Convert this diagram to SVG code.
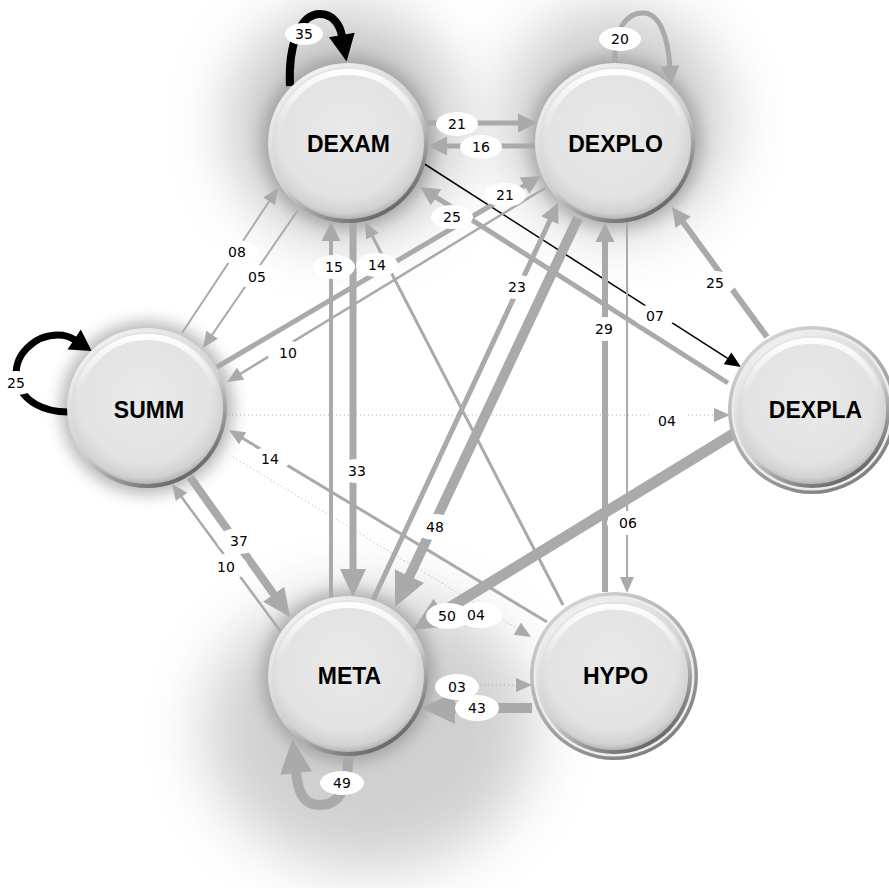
<svg xmlns="http://www.w3.org/2000/svg" xmlns:xlink="http://www.w3.org/1999/xlink" width="889" height="888" viewBox="0 0 889 888">
<style>
.n text{font-family:"Liberation Sans",Arial,sans-serif;font-weight:bold;font-size:23px;text-anchor:middle;fill:#000}
.e{fill:none;stroke:#aaaaaa}
.b{fill:none;stroke:#000}
.d{fill:none;stroke:#aaaaaa;stroke-width:1;stroke-dasharray:1 3}
.lb ellipse{fill:#fff}
.lb text{font-family:"DejaVu Sans",Verdana,sans-serif;font-size:14px;text-anchor:middle;fill:#000}
</style>
<defs>
<filter id="blurL" x="-60%" y="-60%" width="220%" height="220%"><feGaussianBlur stdDeviation="30"/></filter>
<filter id="blurS" x="-30%" y="-30%" width="160%" height="160%"><feGaussianBlur stdDeviation="8"/></filter>
<linearGradient id="rim" x1="0.2" y1="0" x2="0.8" y2="1">
<stop offset="0" stop-color="#f4f4f4"/><stop offset="0.55" stop-color="#cfcfcf"/><stop offset="1" stop-color="#555"/>
</linearGradient>
<radialGradient id="body" cx="0.48" cy="0.42" r="0.58">
<stop offset="0" stop-color="#e9e9e9"/><stop offset="0.75" stop-color="#e3e3e3"/><stop offset="0.93" stop-color="#d2d2d2"/><stop offset="1" stop-color="#b5b5b5"/>
</radialGradient>
<linearGradient id="hl" x1="0" y1="0" x2="0" y2="1">
<stop offset="0" stop-color="#fff" stop-opacity="0.95"/><stop offset="0.4" stop-color="#fff" stop-opacity="0"/>
</linearGradient>
<linearGradient id="ring" x1="0.2" y1="0" x2="0.8" y2="1">
<stop offset="0" stop-color="#d8d8d8"/><stop offset="1" stop-color="#7a7a7a"/>
</linearGradient>
<g id="ball">
<circle r="80" fill="url(#rim)"/>
<circle r="76" fill="url(#body)"/>
<circle r="71" fill="none" stroke="url(#hl)" stroke-width="6"/>
</g>
<marker id="as" markerUnits="userSpaceOnUse" orient="auto" refX="0" refY="0" overflow="visible"><path d="M-1,-7 L15,0 L-1,7 z" fill="#aaaaaa"/></marker>
<marker id="am" markerUnits="userSpaceOnUse" orient="auto" refX="0" refY="0" overflow="visible"><path d="M-1,-9.5 L18,0 L-1,9.5 z" fill="#aaaaaa"/></marker>
<marker id="al" markerUnits="userSpaceOnUse" orient="auto" refX="0" refY="0" overflow="visible"><path d="M-1,-13 L27,0 L-1,13 z" fill="#aaaaaa"/></marker>
<marker id="ax" markerUnits="userSpaceOnUse" orient="auto" refX="0" refY="0" overflow="visible"><path d="M-1,-16 L33,0 L-1,16 z" fill="#aaaaaa"/></marker>
<marker id="bs" markerUnits="userSpaceOnUse" orient="auto" refX="0" refY="0" overflow="visible"><path d="M-1,-7 L15,0 L-1,7 z" fill="#000"/></marker>
<marker id="bm" markerUnits="userSpaceOnUse" orient="auto" refX="0" refY="0" overflow="visible"><path d="M-1,-12 L20,0 L-1,12 z" fill="#000"/></marker>
<marker id="bl" markerUnits="userSpaceOnUse" orient="auto" refX="0" refY="0" overflow="visible"><path d="M-1,-13 L26,0 L-1,13 z" fill="#000"/></marker>
</defs>
<rect width="889" height="888" fill="#fff"/>
<g id="shadows">
<circle cx="345" cy="125" r="115" fill="#8f8f8f" opacity="0.5" filter="url(#blurL)"/>
<circle cx="615" cy="120" r="112" fill="#8f8f8f" opacity="0.45" filter="url(#blurL)"/>
<ellipse cx="370" cy="730" rx="165" ry="140" fill="#999" opacity="0.45" filter="url(#blurL)"/>
<circle cx="348" cy="143" r="86" fill="#777" opacity="0.5" filter="url(#blurS)"/>
<circle cx="615" cy="143" r="86" fill="#777" opacity="0.5" filter="url(#blurS)"/>
<circle cx="147" cy="408" r="86" fill="#777" opacity="0.55" filter="url(#blurS)"/>
<circle cx="348" cy="676" r="86" fill="#777" opacity="0.5" filter="url(#blurS)"/>
</g>
<g id="connectors">
<path class="b" stroke-width="8" d="M290,86 C288,45 300,14 320,14 C333,14 340,25 342,36" marker-end="url(#bl)"/>
<path class="e" stroke-width="5" d="M615,64 C613,30 626,13 643,13 C660,13 668,38 670,67" marker-end="url(#am)"/>
<path class="b" stroke-width="7" d="M68,412 C45,412 22,402 17,380 C12,355 35,335 58,335 C65,335 69,336 75,340" marker-end="url(#bm)"/>
<path class="e" stroke-width="10" d="M348,755 C349,790 338,805 320,805 C302,805 298,790 296,772" marker-end="url(#ax)"/>
<path class="e" stroke-width="5" d="M428,123 H519" marker-end="url(#am)"/>
<path class="e" stroke-width="5" d="M535,146 H446" marker-end="url(#am)"/>
<path class="b" stroke-width="1.5" d="M423,163 L728.4,358.9" marker-end="url(#bs)"/>
<path class="e" stroke-width="5" d="M728,383 L435.2,196.7" marker-end="url(#am)"/>
<path class="e" stroke-width="6" d="M767,337 L682.6,221.5" marker-end="url(#am)"/>
<path class="e" stroke-width="11" d="M735,433 L441.1,612.8" marker-end="url(#ax)"/>
<path class="d" d="M228,415 H715" marker-end="url(#as)"/>
<path class="d" d="M233,457 L518.2,629.2" marker-end="url(#as)"/>
<path class="e" stroke-width="2" d="M182,333 L269.7,200.5" marker-end="url(#as)"/>
<path class="e" stroke-width="2" d="M298,210 L211.5,335.6" marker-end="url(#as)"/>
<path class="e" stroke-width="5" d="M217,367 L525.5,185.1" marker-end="url(#am)"/>
<path class="e" stroke-width="2.5" d="M545,188 L239.8,374.2" marker-end="url(#as)"/>
<path class="e" stroke-width="4" d="M331,598 V240" marker-end="url(#am)"/>
<path class="e" stroke-width="7" d="M353,222 V570" marker-end="url(#al)"/>
<path class="e" stroke-width="3" d="M563,605 L371.9,235.3" marker-end="url(#as)"/>
<path class="e" stroke-width="3" d="M547,622 L241.8,437.8" marker-end="url(#as)"/>
<path class="e" stroke-width="8" d="M190,477 L274.3,595" marker-end="url(#al)"/>
<path class="e" stroke-width="2.5" d="M281,632 L180.9,496.1" marker-end="url(#as)"/>
<path class="e" stroke-width="5" d="M373,600 L550.4,219.3" marker-end="url(#am)"/>
<path class="e" stroke-width="10" d="M578,218 L409,577.1" marker-end="url(#ax)"/>
<path class="e" stroke-width="6" d="M605,592 V241" marker-end="url(#am)"/>
<path class="e" stroke-width="2" d="M627,222 V578" marker-end="url(#as)"/>
<path class="d" d="M428,685 H517" marker-end="url(#as)"/>
<path class="e" stroke-width="10" d="M532,708 H454" marker-end="url(#ax)"/>
<g class="lb">
<ellipse cx="304" cy="34" rx="19" ry="11"/><text x="304" y="39">35</text>
<ellipse cx="620" cy="39" rx="21" ry="12"/><text x="620" y="44">20</text>
<ellipse cx="16" cy="383" rx="21" ry="12"/><text x="16" y="388">25</text>
<ellipse cx="342" cy="783" rx="22" ry="12"/><text x="342" y="788">49</text>
<ellipse cx="457" cy="124" rx="21" ry="12"/><text x="457" y="129">21</text>
<ellipse cx="481" cy="147" rx="21" ry="12"/><text x="481" y="152">16</text>
<ellipse cx="655" cy="316" rx="21" ry="12"/><text x="655" y="321">07</text>
<ellipse cx="452" cy="217" rx="21" ry="12"/><text x="452" y="222">25</text>
<ellipse cx="715" cy="283" rx="21" ry="12"/><text x="715" y="288">25</text>
<ellipse cx="448" cy="616" rx="22" ry="13"/><text x="447" y="621">50</text>
<ellipse cx="480" cy="615" rx="22" ry="13"/><text x="476" y="620">04</text>
<ellipse cx="667" cy="421" rx="21" ry="12"/><text x="667" y="426">04</text>
<ellipse cx="237" cy="252" rx="21" ry="12"/><text x="237" y="257">08</text>
<ellipse cx="257" cy="277" rx="21" ry="12"/><text x="257" y="282">05</text>
<ellipse cx="505" cy="195" rx="21" ry="12"/><text x="505" y="200">21</text>
<ellipse cx="288" cy="353" rx="21" ry="12"/><text x="288" y="358">10</text>
<ellipse cx="334" cy="267" rx="21" ry="12"/><text x="334" y="272">15</text>
<ellipse cx="357" cy="471" rx="21" ry="12"/><text x="357" y="476">33</text>
<ellipse cx="377" cy="265" rx="21" ry="12"/><text x="377" y="270">14</text>
<ellipse cx="270" cy="459" rx="21" ry="12"/><text x="270" y="464">14</text>
<ellipse cx="239" cy="541" rx="22" ry="13"/><text x="239" y="546">37</text>
<ellipse cx="226" cy="567" rx="22" ry="13"/><text x="226" y="572">10</text>
<ellipse cx="517" cy="287" rx="21" ry="12"/><text x="517" y="292">23</text>
<ellipse cx="435" cy="527" rx="22" ry="13"/><text x="435" y="532">48</text>
<ellipse cx="604" cy="329" rx="21" ry="12"/><text x="604" y="334">29</text>
<ellipse cx="628" cy="523" rx="21" ry="12"/><text x="628" y="528">06</text>
<ellipse cx="457" cy="687" rx="22" ry="13"/><text x="457" y="692">03</text>
<ellipse cx="477" cy="708" rx="22" ry="13"/><text x="477" y="713">43</text>
</g>
</g>
<g id="n-dexam" class="n" transform="translate(348,143)"><use href="#ball"/><text x="0.5" y="9">DEXAM</text></g>
<g id="n-dexplo" class="n" transform="translate(615,143)"><use href="#ball"/><text x="0.5" y="9">DEXPLO</text></g>
<g id="n-summ" class="n" transform="translate(147,408)"><use href="#ball"/><text x="2" y="10">SUMM</text></g>
<g id="n-meta" class="n" transform="translate(348,676)"><use href="#ball"/><text x="1.5" y="8">META</text></g>
<g id="n-hypo" class="n" transform="translate(614,676)"><circle r="84" fill="url(#ring)"/><circle r="80.5" fill="#ececec"/><use href="#ball" transform="scale(0.975)"/><text x="1.5" y="8">HYPO</text></g>
<g id="n-dexpla" class="n" transform="translate(812,410)"><circle r="84" fill="url(#ring)"/><circle r="80.5" fill="#ececec"/><use href="#ball" transform="scale(0.975)"/><text x="3.5" y="8">DEXPLA</text></g>
</svg>
